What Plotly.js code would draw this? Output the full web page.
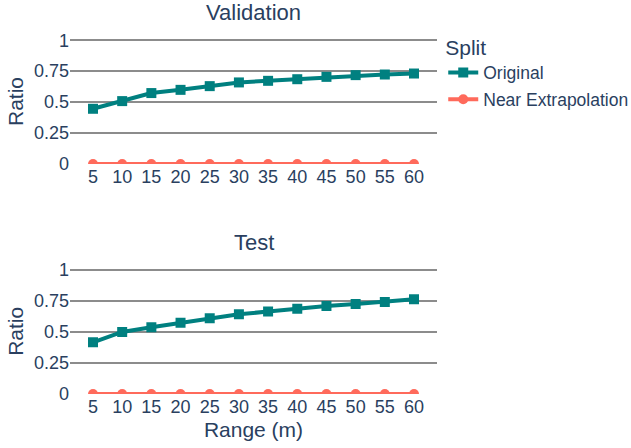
<!DOCTYPE html>
<html>
<head>
<meta charset="utf-8">
<script src="https://cdn.plot.ly/plotly-3.0.1.min.js"></script>
<style>html,body{margin:0;padding:0;background:#fff;}#chart{width:631px;height:448px;}</style>
</head>
<body>
<div id="chart"></div>
<script>
const ranges = [5, 10, 15, 20, 25, 30, 35, 40, 45, 50, 55, 60];
const valOriginal = [0.446, 0.508, 0.573, 0.599, 0.629, 0.659, 0.672, 0.685, 0.704, 0.718, 0.723, 0.731];
const valNear = [0, 0, 0, 0, 0, 0, 0, 0, 0, 0, 0, 0];
const testOriginal = [0.417, 0.500, 0.538, 0.575, 0.610, 0.643, 0.664, 0.688, 0.710, 0.726, 0.742, 0.763];
const testNear = [0, 0, 0, 0, 0, 0, 0, 0, 0, 0, 0, 0];
const yTickVals = [0, 0.25, 0.5, 0.75, 1];
const yTickText = ['0', '0.25', '0.5', '0.75', '1'];

const teal = '#008080';
const red = '#FF6A5B';
const fontColor = '#2a3f5f';

function tr(y, name, color, symbol, xa, ya, show) {
  return {
    x: ranges, y: y, name: name, type: 'scatter', mode: 'lines+markers',
    xaxis: xa, yaxis: ya, showlegend: show, legendgroup: name,
    line: {color: color, width: 4},
    marker: {color: color, symbol: symbol, size: 10},
    cliponaxis: true
  };
}

const data = [
  tr(valOriginal, 'Original', teal, 'square', 'x', 'y', true),
  tr(valNear, 'Near Extrapolation', red, 'circle', 'x', 'y', true),
  tr(testOriginal, 'Original', teal, 'square', 'x2', 'y2', false),
  tr(testNear, 'Near Extrapolation', red, 'circle', 'x2', 'y2', false)
];

const xBase = {
  range: [1.06, 63.94], tickvals: ranges, ticktext: ranges.map(String),
  showgrid: false, zeroline: false, showline: false, ticks: '',
  tickfont: {size: 18, color: fontColor}
};
const yBase = {
  range: [0, 1.01], tickvals: yTickVals, ticktext: yTickText,
  showgrid: true, gridcolor: '#8c8c8c', gridwidth: 2, zeroline: false, showline: false, ticks: '',
  tickfont: {size: 18, color: fontColor},
  title: {text: 'Ratio', font: {size: 21, color: fontColor}, standoff: 4}
};

const layout = {
  width: 631, height: 448,
  margin: {l: 70, r: 194, t: 39, b: 54, autoexpand: false},
  paper_bgcolor: '#fff', plot_bgcolor: '#fff',
  font: {family: '"Liberation Sans", Arial, sans-serif', color: fontColor, size: 18},
  xaxis: Object.assign({}, xBase, {domain: [0, 1], anchor: 'y'}),
  yaxis: Object.assign({}, yBase, {domain: [0.648, 1], anchor: 'x'}),
  xaxis2: Object.assign({}, xBase, {domain: [0, 1], anchor: 'y2', title: {text: 'Range (m)', font: {size: 21, color: fontColor}, standoff: 6}}),
  yaxis2: Object.assign({}, yBase, {domain: [0, 0.353], anchor: 'x2'}),
  legend: {
    title: {text: 'Split', font: {size: 21, color: fontColor}},
    x: 1.017, xanchor: 'left', y: 1.033, yanchor: 'top',
    font: {size: 17.5, color: fontColor}, tracegroupgap: 1, itemwidth: 30
  },
  annotations: [
    {text: 'Validation', x: 0.5, xref: 'paper', y: 1, yref: 'paper', yanchor: 'bottom', yshift: 12, showarrow: false, font: {size: 22, color: fontColor}},
    {text: 'Test', x: 0.5, xref: 'paper', y: 0.353, yref: 'paper', yanchor: 'bottom', yshift: 12, showarrow: false, font: {size: 22, color: fontColor}}
  ]
};

Plotly.newPlot('chart', data, layout, {displayModeBar: false, responsive: false});
</script>
</body>
</html>
